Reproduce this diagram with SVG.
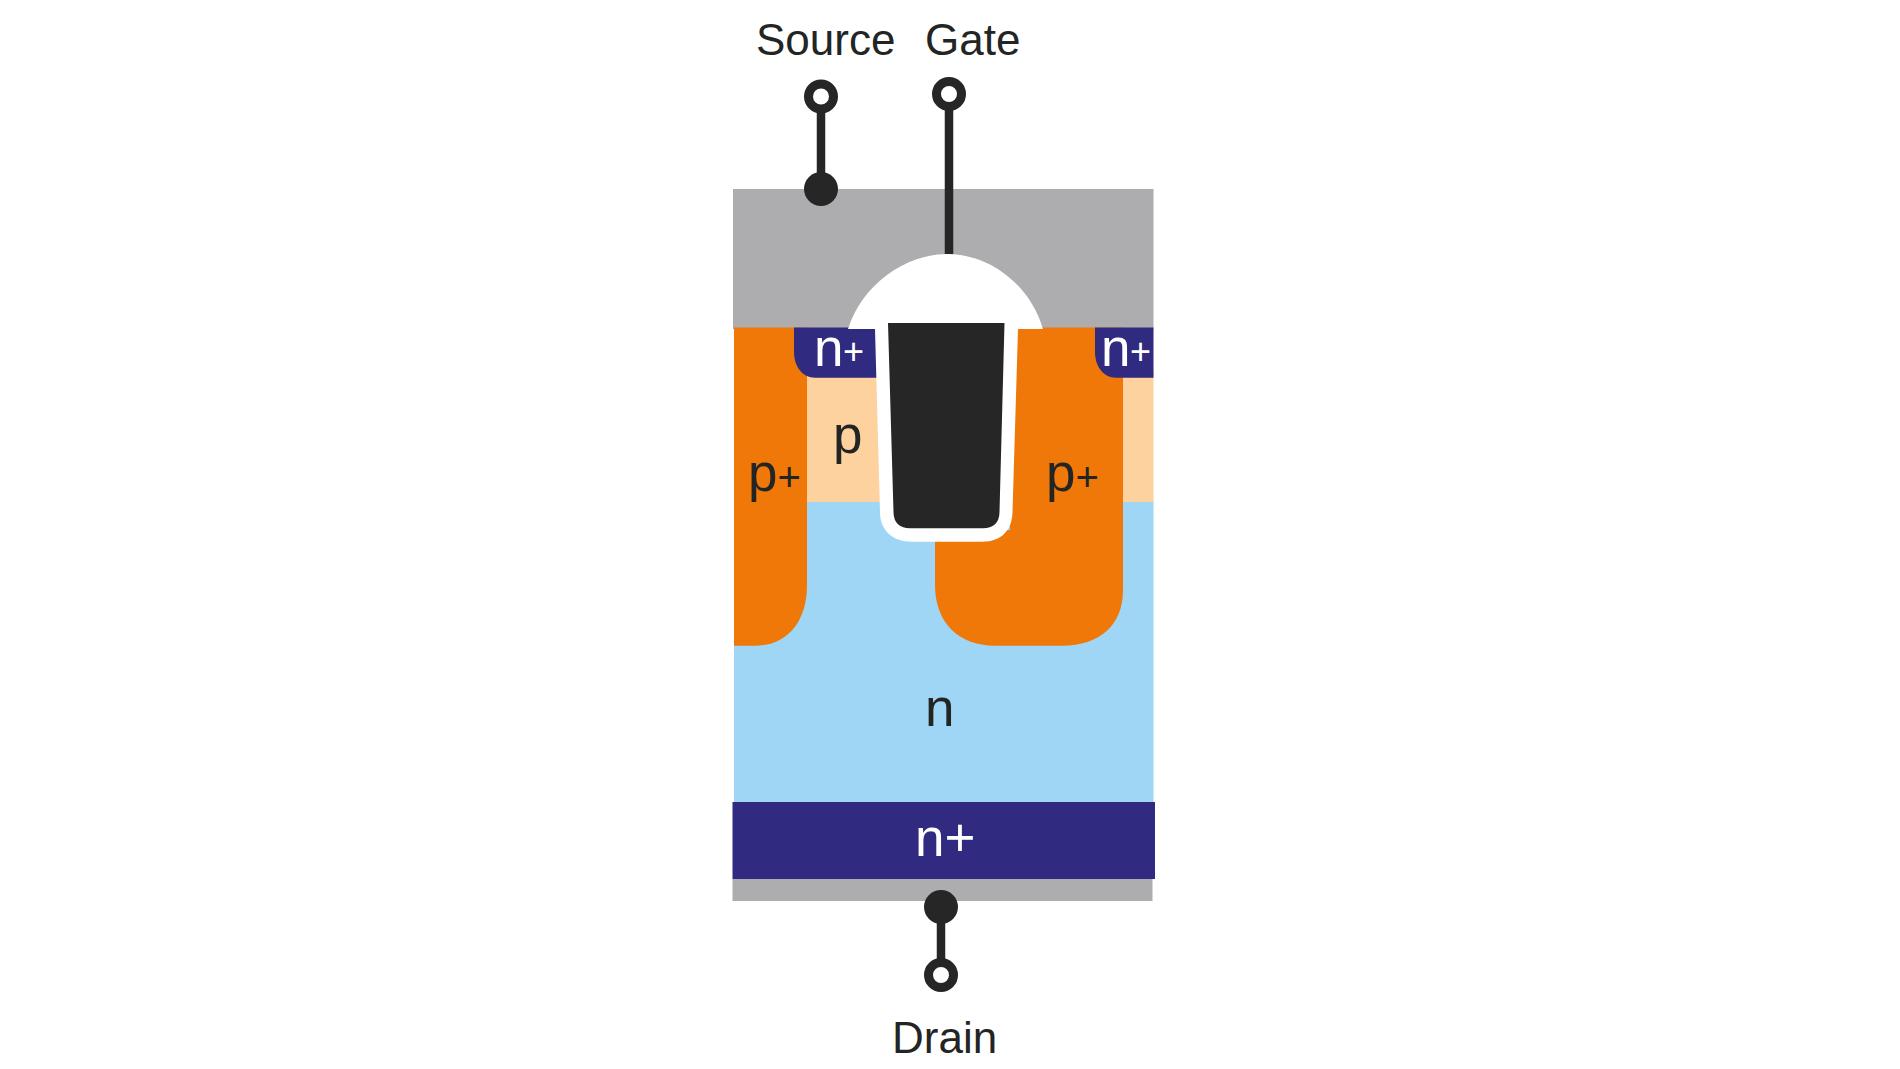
<svg xmlns="http://www.w3.org/2000/svg" width="1900" height="1069" viewBox="0 0 1900 1069">
<style>
text{font-family:"Liberation Sans",Arial,sans-serif;fill:#232525}
.t{font-size:44px}
.d{font-size:53px}
.w{fill:#fff}
.wire{stroke:#252625;stroke-width:8.5;fill:none}
.ring{fill:#fff;stroke:#252625;stroke-width:9}
.dot{fill:#252625}
.g{fill:#adadaf}.o{fill:#ef7808}.l{fill:#fdd29f}.b{fill:#9fd6f6}.nv{fill:#302a80}
</style>
<rect width="1900" height="1069" fill="#fff"/>
<g id="metal-top"><rect class="g" x="733" y="189" width="420.500" height="140"/></g>
<g id="drift-n"><rect class="b" x="734" y="500" width="419.500" height="304"/><text class="d" x="925" y="726">n</text></g>
<g id="body-p">
<rect class="l" x="800" y="370" width="85" height="132"/>
<rect class="l" x="1115" y="370" width="38.500" height="132"/>
</g>
<g id="p-plus-left"><path class="o" d="M734 327.500H807V585C807 622 787 645.700 755 645.700H734Z"/></g>
<g id="p-plus-right"><path class="o" d="M1010 327.500H1123V590C1123 625 1100 645.700 1062 645.700H995C958 645.700 935 622 935 585V530H1010Z"/></g>
<g id="n-plus-left"><path class="nv" d="M794 327.500H880V377.700H815C802 377.700 794 366 794 352Z"/></g>
<g id="n-plus-right"><path class="nv" d="M1095 327.500H1153.500V377.700H1116C1103 377.700 1095 366 1095 352Z"/></g>
<g id="oxide"><path fill="#fff" d="M848 329C862 285 905 254 947 254C990 254 1030 285 1043 329L1018 329L1012.500 512C1012 530 1002 541.700 982 541.700H912C892 541.700 880 530 880 512L875 329Z"/></g>
<g id="gate-poly"><path fill="#252625" d="M888 323H1004.500L999.500 512C999.500 523 993 528.300 983 528.300H910C900 528.300 893.500 523 893.500 512Z"/></g>
<g id="n-plus-bottom"><rect class="nv" x="732.500" y="802" width="422.500" height="77"/></g>
<g id="metal-bottom"><rect class="g" x="732.500" y="879" width="420" height="22"/></g>
<g id="connectors">
<path class="wire" d="M821 105V189"/>
<path class="wire" d="M949 103V254"/>
<path class="wire" d="M941 907V966"/>
</g>
<g id="source-terminal"><circle class="ring" cx="821" cy="96.500" r="12.500"/><circle class="dot" cx="821" cy="189" r="17"/><text class="t" x="756" y="55">Source</text></g>
<g id="gate-terminal"><circle class="ring" cx="949" cy="94" r="12.500"/><text class="t" x="925" y="55">Gate</text></g>
<g id="drain-terminal"><circle class="dot" cx="941" cy="907" r="17"/><circle class="ring" cx="941" cy="975" r="12.500"/><text class="t" x="892" y="1053">Drain</text></g>
<g id="labels">
<text class="d w" x="814" y="366">n<tspan font-size="36" dx="-0.500" dy="-2">+</tspan></text>
<text class="d w" x="1101" y="366">n<tspan font-size="36" dx="-0.500" dy="-2">+</tspan></text>
<text class="d" x="833" y="453">p</text>
<text class="d" x="748" y="491">p<tspan font-size="40">+</tspan></text>
<text class="d" x="1046" y="491">p<tspan font-size="40">+</tspan></text>
<text class="d w" x="915" y="856">n+</text>
</g>
</svg>
